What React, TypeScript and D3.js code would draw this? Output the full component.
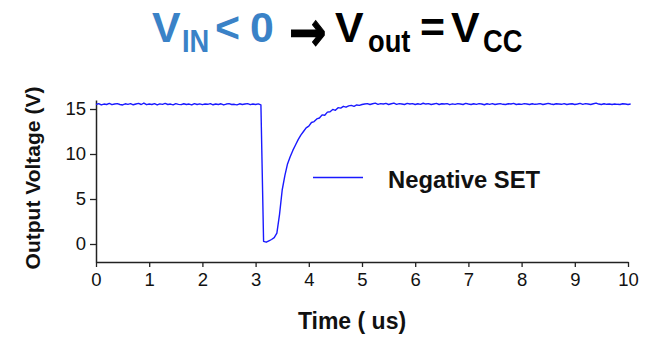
import * as d3 from "d3";
import { useEffect, useRef } from "react";

// scope trace, sampled every 0.05 us from 0 to 10 us
const sampleStep = 0.05;
const voltage = [
  // 0.00 - 3.10
  15.5, 15.6, 15.45, 15.55, 15.5, 15.62, 15.48, 15.55, 15.6, 15.5,
  15.45, 15.58, 15.52, 15.6, 15.47, 15.55, 15.62, 15.5, 15.66, 15.48,
  15.55, 15.5, 15.6, 15.45, 15.57, 15.52, 15.62, 15.5, 15.55, 15.46,
  15.6, 15.52, 15.48, 15.58, 15.5, 15.55, 15.45, 15.6, 15.5, 15.57,
  15.48, 15.55, 15.52, 15.6, 15.47, 15.55, 15.5, 15.58, 15.45, 15.55,
  15.6, 15.5, 15.52, 15.46, 15.58, 15.5, 15.55, 15.6, 15.48, 15.55,
  15.5, 15.57, 15.45,
  // 3.15 - 4.95 (negative transient and recovery)
  0.3, 0.2, 0.35, 0.5, 0.7, 1.2, 3.3, 6.0, 7.6, 8.9,
  9.7, 10.4, 11.0, 11.6, 12.1, 12.5, 12.9, 13.1, 13.5, 13.6,
  13.9, 14.0, 14.35, 14.3, 14.65, 14.7, 14.95, 14.85, 15.15, 15.1,
  15.3, 15.2, 15.35, 15.4, 15.3, 15.45, 15.4, 15.5,
  // 5.00 - 10.00
  15.55, 15.6, 15.5, 15.58, 15.65, 15.52, 15.6, 15.55, 15.62, 15.5,
  15.58, 15.66, 15.52, 15.6, 15.55, 15.5, 15.62, 15.56, 15.6, 15.5,
  15.58, 15.52, 15.64, 15.55, 15.6, 15.5, 15.56, 15.62, 15.5, 15.58,
  15.55, 15.6, 15.48, 15.57, 15.52, 15.6, 15.55, 15.5, 15.62, 15.55,
  15.5, 15.58, 15.52, 15.6, 15.55, 15.47, 15.58, 15.52, 15.6, 15.5,
  15.55, 15.6, 15.52, 15.5, 15.58, 15.55, 15.62, 15.5, 15.56, 15.52,
  15.6, 15.55, 15.5, 15.58, 15.52, 15.55, 15.6, 15.5, 15.56, 15.62,
  15.55, 15.5, 15.58, 15.55, 15.52, 15.6, 15.5, 15.55, 15.58, 15.5,
  15.55, 15.62, 15.52, 15.6, 15.55, 15.5, 15.58, 15.66, 15.55, 15.5,
  15.58, 15.52, 15.55, 15.5, 15.56, 15.52, 15.5, 15.58, 15.55, 15.5,
  15.55,
];

const xTicks = [0, 1, 2, 3, 4, 5, 6, 7, 8, 9, 10];
const yTicks = [0, 5, 10, 15];
const seriesName = "Negative SET";

const width = 654;
const height = 337;
const font = "'Liberation Sans', Arial, sans-serif";

// title pieces: text, colour, kind, left edge in px
const titleParts: [string, string, "main" | "sub" | "arrow", number][] = [
  ["V", "#3a82c7", "main", 152],
  ["IN", "#3a82c7", "sub", 182],
  ["<", "#3a82c7", "main", 215],
  ["0", "#3a82c7", "main", 250],
  ["→", "#000", "arrow", 289],
  ["V", "#000", "main", 335],
  ["out", "#000", "sub", 368],
  ["=", "#000", "main", 420],
  ["V", "#000", "main", 451],
  ["CC", "#000", "sub", 483],
];

export default function App() {
  const ref = useRef<SVGSVGElement>(null);

  useEffect(() => {
    document.body.style.margin = "0";
    if (!ref.current) return;
    const svg = d3.select(ref.current);
    svg.selectAll("*").remove();

    const x = d3.scaleLinear().domain([0, 10]).range([96, 628]);
    const y = d3.scaleLinear().domain([-2, 16]).range([262, 100]);

    // title
    const style = {
      main: { size: 42, base: 42, sx: 1.02, family: font, stroke: 0 },
      sub: { size: 31, base: 52, sx: 0.88, family: font, stroke: 0 },
      arrow: { size: 56, base: 51, sx: 0.8, family: "'DejaVu Sans', sans-serif", stroke: 1.2 },
    };
    const title = svg.append("g").attr("font-weight", "bold");
    titleParts.forEach(([t, c, kind, left]) => {
      const s = style[kind];
      title
        .append("text")
        .attr("transform", `translate(${left},${s.base}) scale(${s.sx},1)`)
        .attr("fill", c)
        .attr("stroke", s.stroke ? c : "none")
        .attr("stroke-width", s.stroke)
        .attr("font-size", s.size)
        .attr("font-family", s.family)
        .text(t);
    });

    // axes
    const xAxis = svg
      .append("g")
      .attr("transform", `translate(0,${y.range()[0]})`)
      .call(d3.axisBottom(x).tickValues(xTicks).tickSize(5).tickSizeOuter(0).tickPadding(6));
    const yAxis = svg
      .append("g")
      .attr("transform", `translate(${x.range()[0]},0)`)
      .call(d3.axisLeft(y).tickValues(yTicks).tickSize(6).tickSizeOuter(0).tickPadding(4));

    [xAxis, yAxis].forEach((a) => {
      a.select(".domain").attr("stroke", "#222").attr("stroke-width", 1.5);
      a.selectAll(".tick line").attr("stroke", "#222").attr("stroke-width", 1.3);
      a.selectAll(".tick text")
        .attr("font-family", font)
        .attr("font-size", 18.5)
        .attr("fill", "#111");
    });

    // trace
    const line = d3
      .line<number>()
      .x((_, i) => x(i * sampleStep))
      .y((d) => y(d));
    svg
      .append("path")
      .datum(voltage)
      .attr("d", line)
      .attr("fill", "none")
      .attr("stroke", "#1a1aff")
      .attr("stroke-width", 1.4)
      .attr("stroke-linejoin", "round");

    // legend
    svg
      .append("line")
      .attr("x1", 313)
      .attr("x2", 363)
      .attr("y1", 177.5)
      .attr("y2", 177.5)
      .attr("stroke", "#1a1aff")
      .attr("stroke-width", 1.4);
    svg
      .append("text")
      .attr("x", 388)
      .attr("y", 188)
      .attr("font-family", font)
      .attr("font-weight", "bold")
      .attr("font-size", 23.8)
      .attr("fill", "#111")
      .text(seriesName);

    // axis titles
    svg
      .append("text")
      .attr("x", 352)
      .attr("y", 329)
      .attr("text-anchor", "middle")
      .attr("font-family", font)
      .attr("font-weight", "bold")
      .attr("font-size", 23)
      .attr("fill", "#111")
      .text("Time ( us)");
    svg
      .append("text")
      .attr("transform", "translate(40,178) rotate(-90)")
      .attr("text-anchor", "middle")
      .attr("font-family", font)
      .attr("font-weight", "bold")
      .attr("font-size", 21)
      .attr("fill", "#111")
      .text("Output Voltage (V)");
  }, []);

  return <svg ref={ref} width={width} height={height} style={{ display: "block" }} />;
}
